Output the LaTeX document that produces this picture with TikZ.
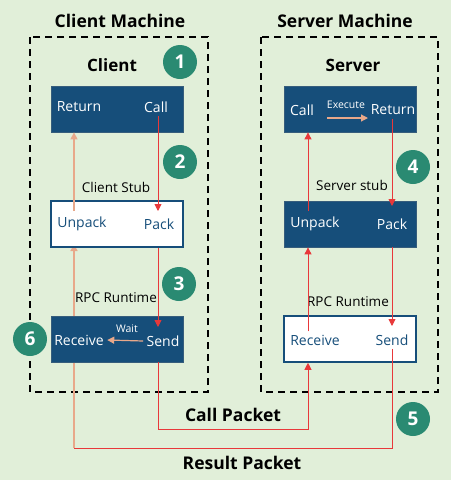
\documentclass[tikz,border=0pt]{standalone}
\usepackage{fontspec}
\setmainfont{Open Sans}
\usetikzlibrary{arrows.meta}

\definecolor{bgGreen}{HTML}{E1EFD9}
\definecolor{boxBlue}{HTML}{164E7A}
\definecolor{stepTeal}{HTML}{2A8A72}
\definecolor{lineRed}{HTML}{E8383A}
\definecolor{linePeach}{HTML}{E8A88A}

\tikzset{
  darkbox/.style={fill=boxBlue, draw=boxBlue!70!gray, line width=0.8pt,
    minimum width=132pt, minimum height=46pt},
  lightbox/.style={fill=white, draw=boxBlue, line width=1.6pt,
    minimum width=132pt, minimum height=46pt},
  machine/.style={draw=black, line width=1.6pt, dash pattern=on 7pt off 5pt},
  steplabel/.style={circle, fill=stepTeal, text=white, inner sep=0pt,
    minimum size=34pt, font=\bfseries\fontsize{19}{19}\selectfont},
  heading/.style={font=\bfseries\fontsize{17.5}{17.5}\selectfont},
  side/.style={font=\bfseries\fontsize{17}{17}\selectfont},
  intext/.style={text=white, font=\fontsize{14}{14}\selectfont},
  outtext/.style={text=boxBlue, font=\fontsize{14}{14}\selectfont},
  caption/.style={font=\fontsize{13.5}{13.5}\selectfont},
  smalltext/.style={text=white, font=\fontsize{10.5}{10.5}\selectfont},
  redarrow/.style={draw=lineRed, line width=0.9pt, -{Triangle[length=7pt,width=7pt]}},
  peacharrow/.style={draw=linePeach, line width=1.2pt, -{Triangle[length=7pt,width=7pt]}},
}

\begin{document}
\begin{tikzpicture}[x=1pt,y=-1pt]
    % background
    \fill[bgGreen] (0,0) rectangle (451,480);
    \useasboundingbox (0,0) rectangle (451,480);

    % machine frames
    \draw[machine] (30,37) rectangle (208,392);
    \draw[machine] (261,37) rectangle (438,392);
    \node[heading] (clientMachine) at (120,21) {Client Machine};
    \node[heading] (serverMachine) at (345,21) {Server Machine};

    % packet columns
    \coordinate (colCL) at (74,0);
    \coordinate (colCR) at (158,0);
    \coordinate (colSL) at (308,0);
    \coordinate (colSR) at (392,0);
    \coordinate (callTurnL) at (158,429);
    \coordinate (callTurnR) at (308,429);
    \coordinate (resTurnR) at (392,448);
    \coordinate (resTurnL) at (74,448);

    % result packet return (under the boxes)
    \draw[peacharrow] (resTurnL) -- (74,244);

    % client side boxes
    \node[darkbox] (clientApp) at (117,109) {};
    \node[lightbox] (clientStub) at (117,224) {};
    \node[darkbox] (clientRpc) at (117,339) {};

    % server side boxes
    \node[darkbox] (serverApp) at (350,109) {};
    \node[darkbox] (serverStub) at (350,224) {};
    \node[lightbox] (serverRpc) at (350,339) {};

    % box texts
    \node[side] (clientLbl) at (112,65) {Client};
    \node[side] (serverLbl) at (353,65) {Server};
    \node[intext] (returnC) at (79,107) {Return};
    \node[intext] (callC) at (156,107) {Call};
    \node[outtext] (unpackC) at (82,224) {Unpack};
    \node[outtext] (packC) at (159,224) {Pack};
    \node[intext] (receiveC) at (79,340) {Receive};
    \node[intext] (sendC) at (163,341) {Send};
    \node[smalltext] (waitLbl) at (127,329) {Wait};
    \node[intext] (callS) at (302,110) {Call};
    \node[intext] (returnS) at (393,110) {Return};
    \node[smalltext] (execLbl) at (346,105) {Execute};
    \node[intext] (unpackS) at (315,224) {Unpack};
    \node[intext] (packS) at (392,224) {Pack};
    \node[outtext] (receiveS) at (315,340) {Receive};
    \node[outtext] (sendS) at (392,340) {Send};

    % layer captions
    \node[caption] (cStubLbl) at (116,187) {Client Stub};
    \node[caption] (sStubLbl) at (352,185) {Server stub};
    \node[caption] (cRpcLbl) at (116,298) {RPC Runtime};
    \node[caption] (sRpcLbl) at (348,302) {RPC Runtime};
    \node[heading] (callPacket) at (233,415) {Call Packet};
    \node[heading] (resultPacket) at (242,463) {Result Packet};

    % client arrows
    \draw[redarrow] (colCR |- callC.south) -- (colCR |- 0,211);
    \draw[peacharrow] (colCL |- 0,211) -- (colCL |- clientApp.south);
    \draw[redarrow] (colCR |- clientStub.south) -- (colCR |- 0,327);
    \draw[peacharrow] (sendC.west) -- (receiveC.east);

    % packets on the wire
    \draw[redarrow] (colCR |- clientRpc.south) -- (callTurnL) -- (callTurnR) -- (colSL |- serverRpc.south);
    \draw[draw=lineRed, line width=0.9pt] (colSR |- sendS.south) -- (resTurnR) -- (resTurnL);

    % server arrows
    \draw[redarrow] (colSL |- receiveS.north) -- (colSL |- serverStub.south);
    \draw[redarrow] (colSL |- 0,211) -- (colSL |- serverApp.south);
    \draw[redarrow] (colSR |- returnS.south) -- (colSR |- 0,206);
    \draw[redarrow] (colSR |- serverStub.south) -- (colSR |- 0,326);
    \draw[peacharrow] (327,118) -- (368,118);

    % step markers
    \node[steplabel] (stepOne) at (180,62) {1};
    \node[steplabel] (stepTwo) at (180,162) {2};
    \node[steplabel] (stepThree) at (179,284) {3};
    \node[steplabel] (stepFour) at (413,167) {4};
    \node[steplabel] (stepFive) at (413,419) {5};
    \node[steplabel] (stepSix) at (30,339) {6};
\end{tikzpicture}
\end{document}
